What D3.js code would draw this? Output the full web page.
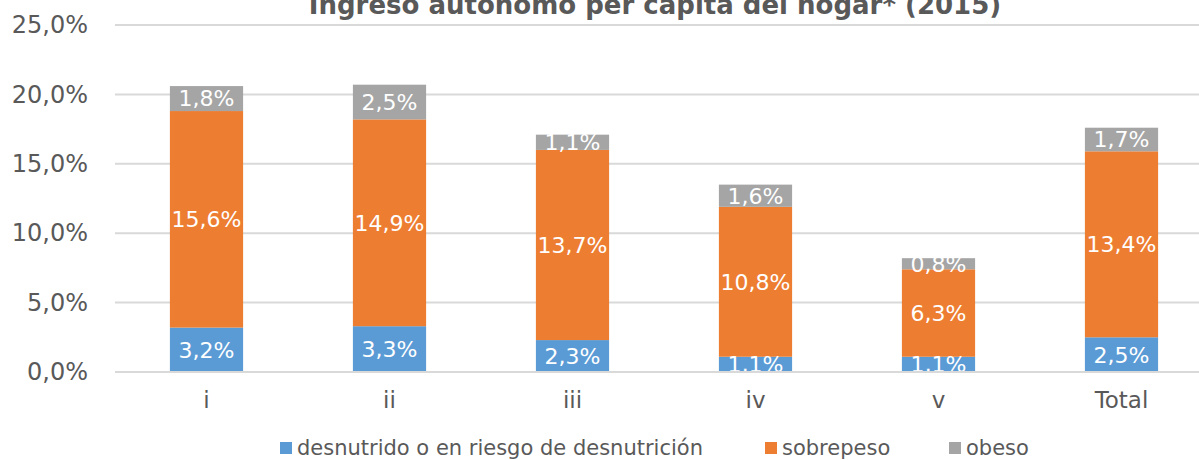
<!DOCTYPE html>
<html>
<head>
<meta charset="utf-8">
<script src="https://cdn.jsdelivr.net/npm/d3@7"></script>
<style>
  body { margin: 0; background: #fff; }
  text { font-family: "DejaVu Sans", Verdana, sans-serif; }
</style>
</head>
<body>
<div id="chart"></div>
<script>
// data
var categories = ["i", "ii", "iii", "iv", "v", "Total"];
var seriesNames = ["desnutrido o en riesgo de desnutrición", "sobrepeso", "obeso"];
var desnutrido = [3.2, 3.3, 2.3, 1.1, 1.1, 2.5];
var sobrepeso  = [15.6, 14.9, 13.7, 10.8, 6.3, 13.4];
var obeso      = [1.8, 2.5, 1.1, 1.6, 0.8, 1.7];
var yTicks = [0, 5, 10, 15, 20, 25];
var colors = ["#5b9bd5", "#ed7d31", "#a5a5a5"];

var svgWidth = 1199;
var svgHeight = 460;

var margin = { top: 25, right: -14, bottom: 88, left: 115 };
var width = svgWidth - margin.left - margin.right;
var height = svgHeight - margin.top - margin.bottom;

var svg = d3.select("#chart").append("svg")
  .attr("width", svgWidth)
  .attr("height", svgHeight);

// title (top is cut off in the source picture)
svg.append("text")
  .attr("x", 655)
  .attr("y", 14)
  .attr("text-anchor", "middle")
  .attr("font-size", "26px")
  .attr("font-weight", "bold")
  .attr("fill", "#595959")
  .text("Ingreso autónomo per cápita del hogar* (2015)");

var chartGroup = svg.append("g")
  .attr("transform", `translate(${margin.left}, ${margin.top})`);

var x = d3.scaleBand()
  .domain(categories)
  .range([0, width])
  .paddingInner(0.6)
  .paddingOuter(0.3);

var y = d3.scaleLinear()
  .domain([0, 25])
  .range([height, 0]);

// gridlines
chartGroup.append("g")
  .selectAll("line")
  .data(yTicks)
  .enter()
  .append("line")
  .attr("x1", 0)
  .attr("x2", width)
  .attr("y1", d => y(d))
  .attr("y2", d => y(d))
  .attr("stroke", "#d9d9d9")
  .attr("stroke-width", 2);

// y axis labels
var leftAxis = d3.axisLeft(y)
  .tickValues(yTicks)
  .tickSize(0)
  .tickPadding(27)
  .tickFormat(d => d3.format(".1f")(d).replace(".", ",") + "%");

var yAxis = chartGroup.append("g").call(leftAxis);
yAxis.select(".domain").remove();
yAxis.selectAll("text")
  .attr("font-size", "24px")
  .attr("fill", "#595959")
  .attr("font-family", "DejaVu Sans, Verdana, sans-serif");

// x axis labels
var bottomAxis = d3.axisBottom(x).tickSize(0).tickPadding(20);
var xAxis = chartGroup.append("g")
  .attr("transform", `translate(0, ${height})`)
  .call(bottomAxis);
xAxis.select(".domain").remove();
xAxis.selectAll("text")
  .attr("font-size", "23px")
  .attr("fill", "#595959")
  .attr("font-family", "DejaVu Sans, Verdana, sans-serif");

// stack data
var rows = categories.map(function(c, i) {
  return { cat: c, s0: desnutrido[i], s1: sobrepeso[i], s2: obeso[i] };
});
var stack = d3.stack().keys(["s0", "s1", "s2"]);
var layers = stack(rows);

svg.append("clipPath")
  .attr("id", "plotClip")
  .append("rect")
  .attr("x", 0)
  .attr("y", -margin.top)
  .attr("width", width)
  .attr("height", height + margin.top);

var barsGroup = chartGroup.append("g");

layers.forEach(function(layer, li) {
  barsGroup.selectAll(".bar" + li)
    .data(layer)
    .enter()
    .append("rect")
    .attr("x", d => x(d.data.cat))
    .attr("width", x.bandwidth())
    .attr("y", d => y(d[1]))
    .attr("height", d => y(d[0]) - y(d[1]))
    .attr("fill", colors[li]);
});

var labelsGroup = chartGroup.append("g").attr("clip-path", "url(#plotClip)");
layers.forEach(function(layer, li) {
  labelsGroup.selectAll(".lbl" + li)
    .data(layer)
    .enter()
    .append("text")
    .attr("x", d => x(d.data.cat) + x.bandwidth() / 2)
    .attr("y", d => y((d[0] + d[1]) / 2))
    .attr("dy", "0.36em")
    .attr("text-anchor", "middle")
    .attr("font-size", "22px")
    .attr("fill", "#ffffff")
    .text(d => d3.format(".1f")(d[1] - d[0]).replace(".", ",") + "%");
});

// axis baseline on top of bars
chartGroup.append("line")
  .attr("x1", 0)
  .attr("x2", width)
  .attr("y1", y(0))
  .attr("y2", y(0))
  .attr("stroke", "#d9d9d9")
  .attr("stroke-width", 2);

// legend
var legendX = [280, 765, 949];
var legend = svg.append("g");
seriesNames.forEach(function(name, i) {
  legend.append("rect")
    .attr("x", legendX[i])
    .attr("y", 442)
    .attr("width", 12)
    .attr("height", 12)
    .attr("fill", colors[i]);
  legend.append("text")
    .attr("x", legendX[i] + 17)
    .attr("y", 455)
    .attr("font-size", "21px")
    .attr("fill", "#595959")
    .text(name);
});
</script>
</body>
</html>
